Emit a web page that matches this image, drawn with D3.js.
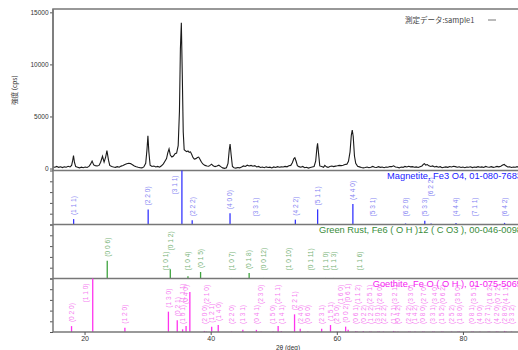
<!DOCTYPE html>
<html>
<head>
<meta charset="utf-8">
<script src="https://cdn.jsdelivr.net/npm/d3@7"></script>
<style>
  body { margin: 0; background: #fff; }
  svg text { font-family: "Liberation Sans", Arial, sans-serif; }
</style>
</head>
<body>
<svg id="chart" width="518" height="350"></svg>
<script>
// measured pattern, [2theta, cps]
const measured = [
  [15.0,150],[15.3,120],[15.6,200],[15.9,110],[16.2,170],[16.5,90],[16.8,160],[17.1,120],[17.4,210],[17.7,150],
  [17.95,300],[18.1,700],[18.25,1240],[18.4,600],[18.6,180],[18.9,120],[19.2,60],[19.5,130],[19.8,80],[20.1,150],
  [20.4,100],[20.7,200],[20.95,420],[21.2,720],[21.45,350],[21.7,280],[22.0,240],[22.3,300],[22.55,600],[22.85,1180],
  [23.1,620],[23.35,1100],[23.55,1720],[23.8,800],[24.0,300],[24.3,200],[24.6,150],[24.9,110],[25.2,180],[25.5,120],
  [25.8,230],[26.1,280],[26.4,380],[26.7,450],[27.0,500],[27.3,470],[27.6,360],[27.9,250],[28.2,170],[28.5,120],
  [28.8,80],[29.1,60],[29.4,150],[29.7,500],[29.9,1800],[30.05,3150],[30.2,1600],[30.4,320],[30.7,200],[31.0,240],
  [31.3,150],[31.6,200],[31.9,130],[32.2,260],[32.5,450],[32.75,700],[33.0,950],[33.2,1500],[33.4,1880],[33.6,1300],
  [33.85,1100],[34.1,1200],[34.35,1420],[34.6,1480],[34.85,2200],[35.05,5500],[35.2,11500],[35.35,14000],[35.5,9000],[35.65,3500],
  [35.8,1800],[36.0,1700],[36.2,1620],[36.4,1680],[36.6,1550],[36.8,1600],[37.0,1350],[37.2,1050],[37.4,900],[37.65,950],
  [37.9,1050],[38.1,1100],[38.3,900],[38.55,600],[38.8,420],[39.1,300],[39.4,250],[39.7,220],[39.9,300],[40.15,420],
  [40.4,260],[40.7,180],[41.0,240],[41.3,320],[41.6,180],[41.9,60],[42.2,20],[42.5,80],[42.75,500],[42.95,1800],
  [43.08,2350],[43.25,1300],[43.45,200],[43.7,80],[44.0,40],[44.3,100],[44.6,60],[44.9,150],[45.2,250],[45.5,200],
  [45.8,320],[46.1,240],[46.4,300],[46.7,220],[47.0,280],[47.3,150],[47.6,200],[47.9,100],[48.2,140],[48.5,80],
  [48.8,160],[49.1,100],[49.4,130],[49.7,60],[50.0,150],[50.3,100],[50.6,180],[50.9,120],[51.2,160],[51.5,140],
  [51.8,200],[52.1,160],[52.4,260],[52.7,300],[52.95,550],[53.2,950],[53.35,1030],[53.55,700],[53.75,280],[54.0,180],
  [54.3,120],[54.6,200],[54.9,80],[55.2,120],[55.5,40],[55.8,100],[56.1,150],[56.4,200],[56.65,700],[56.85,2000],
  [56.95,2420],[57.1,1500],[57.3,250],[57.6,200],[57.9,120],[58.1,300],[58.35,160],[58.6,110],[58.9,200],[59.2,240],
  [59.5,180],[59.8,230],[60.1,260],[60.4,300],[60.7,280],[61.0,320],[61.3,380],[61.6,420],[61.85,700],[62.1,1600],
  [62.3,3200],[62.45,3700],[62.6,3100],[62.8,1200],[63.0,500],[63.3,220],[63.6,160],[63.9,100],[64.2,60],[64.5,100],
  [64.8,150],[65.1,80],[65.4,120],[65.7,200],[66.0,130],[66.3,100],[66.6,180],[66.9,110],[67.2,150],[67.5,80],
  [67.8,140],[68.1,120],[68.4,200],[68.7,180],[69.0,260],[69.3,150],[69.6,120],[69.9,60],[70.2,140],[70.5,110],
  [70.8,200],[71.1,150],[71.4,220],[71.7,160],[72.0,180],[72.3,120],[72.6,160],[72.9,100],[73.2,180],[73.5,250],
  [73.75,420],[73.9,460],[74.1,330],[74.35,380],[74.6,260],[74.9,200],[75.2,250],[75.5,150],[75.8,200],[76.1,120],
  [76.4,180],[76.7,80],[77.0,130],[77.3,160],[77.6,110],[77.9,190],[78.2,150],[78.5,220],[78.8,180],[79.1,120],
  [79.4,170],[79.7,100],[80.0,140],[80.3,80],[80.6,150],[80.9,120],[81.2,170],[81.5,90],[81.8,140],[82.1,110],
  [82.4,180],[82.7,130],[83.0,160],[83.3,100],[83.6,200],[83.9,150],[84.2,120],[84.5,180],[84.8,110],[85.1,150],
  [85.4,200],[85.7,160],[86.0,220],[86.3,330],[86.55,390],[86.8,260],[87.1,150],[87.4,170],[87.7,100],[88.0,140],
  [88.3,120],[88.6,180],[88.9,110],[89.2,150],[89.5,130],[89.8,160]
];

// reference cards: [2theta, relative intensity %, hkl]
const magnetite = [
  [18.27,10,"(1 1 1)"],[30.09,28,"(2 2 0)"],[35.44,100,"(3 1 1)"],[37.07,8,"(2 2 2)"],
  [43.07,21,"(4 0 0)"],[47.15,1,"(3 3 1)"],[53.43,9,"(4 2 2)"],[56.96,28,"(5 1 1)"],
  [62.55,38,"(4 4 0)"],[65.72,1,"(5 3 1)"],[70.9,2,"(6 2 0)"],[73.95,7,"(5 3 3)"],
  [74.95,2,"(6 2 2)"],[78.9,3,"(4 4 4)"],[81.9,1,"(7 1 1)"],[86.6,3,"(6 4 2)"]
];
const greenRust = [
  [23.6,33,"(0 0 6)"],[32.8,1,"(1 0 1)"],[33.6,17,"(0 1 2)"],[36.4,4,"(1 0 4)"],
  [38.4,12,"(0 1 5)"],[43.3,1,"(1 0 7)"],[46.1,10,"(0 1 8)"],[48.4,1,"(0 0 12)"],
  [52.4,1,"(1 0 10)"],[55.9,1,"(0 1 11)"],[58.2,1,"(1 1 0)"],[59.5,1,"(1 1 3)"],[63.7,1,"(1 1 6)"]
];
const goethite = [
  [17.94,11,"(0 2 0)"],[21.3,100,"(1 1 0)"],[26.4,8,"(1 2 0)"],[33.3,38,"(1 3 0)"],
  [34.7,22,"(0 2 1)"],[35.55,5,"(1 0 1)"],[36.1,11,"(0 4 0)"],[36.7,75,"(1 1 1)"],
  [39.0,2,"(2 0 0)"],[39.3,1,"(2 1 0)"],[40.16,10,"(1 2 1)"],[41.2,13,"(1 4 0)"],
  [43.3,1,"(2 2 0)"],[45.1,4,"(1 3 1)"],[47.25,4,"(0 4 1)"],[48.0,1,"(2 3 0)"],
  [49.9,1,"(1 5 0)"],[50.7,11,"(2 1 1)"],[51.2,2,"(1 4 1)"],[53.3,33,"(2 2 1)"],
  [54.2,6,"(2 4 0)"],[55.4,1,"(0 6 0)"],[57.6,6,"(2 3 1)"],[59.0,13,"(1 5 1)"],
  [60.05,1,"(2 5 0)"],[60.6,1,"(1 6 0)"],[61.4,10,"(0 0 2)"],[61.8,4,"(0 6 1)"],
  [63.0,2,"(0 6 1)"],[63.25,1,"(1 1 2)"],[64.2,2,"(0 2 2)"],[65.2,1,"(2 5 1)"],
  [65.45,1,"(1 2 2)"],[66.5,1,"(3 0 1)"],[66.75,1,"(2 6 0)"],[67.4,1,"(2 2 2)"],
  [69.0,2,"(1 7 1)"],[69.25,1,"(3 2 1)"],[69.7,1,"(0 4 2)"],[71.4,1,"(2 4 2)"],
  [71.65,1,"(3 3 0)"],[72.4,1,"(1 4 2)"],[73.6,1,"(0 8 0)"],[73.85,1,"(2 7 0)"],
  [75.2,1,"(3 3 1)"],[75.45,1,"(3 4 0)"],[76.6,1,"(1 5 2)"],[76.85,1,"(0 6 2)"],
  [78.2,1,"(2 5 2)"],[79.2,1,"(3 5 0)"],[79.45,1,"(1 8 0)"],[81.4,1,"(0 8 1)"],
  [81.65,1,"(3 5 1)"],[82.7,1,"(4 0 0)"],[84.0,1,"(2 7 1)"],[84.25,1,"(1 6 2)"],
  [85.3,1,"(4 2 0)"],[85.55,1,"(0 7 2)"],[86.6,2,"(2 8 0)"],[86.85,1,"(4 1 1)"],
  [87.7,1,"(3 3 2)"]
];

const yTicks = [0, 5000, 10000, 15000];
const xTicks = [20, 40, 60, 80];

const svg = d3.select('#chart');
const left = 53, right = 526;

const x = d3.scaleLinear().domain([15, 90]).range([left, right]);
const y = d3.scaleLinear().domain([-190, 15320]).range([170.5, 9]);

const borderCol = '#777';

// top panel frame
svg.append('rect')
  .attr('x', left).attr('y', 9)
  .attr('width', right - left).attr('height', 161.5)
  .attr('fill', 'none').attr('stroke', borderCol).attr('stroke-width', 1.5);

// y axis of measured data
const yAx = svg.append('g')
  .attr('transform', `translate(${left},0)`)
  .call(d3.axisLeft(y).tickValues(yTicks).tickFormat(d3.format('d')).tickSize(3).tickPadding(1.5));
yAx.select('.domain').remove();
yAx.selectAll('line').attr('stroke', '#555');
yAx.selectAll('text').attr('font-size', 6.5).attr('fill', '#333')
  .style('font-family', '"Liberation Sans", Arial, sans-serif');

// measured trace
const line = d3.line().x(d => x(d[0])).y(d => y(d[1]));
svg.append('path')
  .datum(measured)
  .attr('d', line)
  .attr('fill', 'none')
  .attr('stroke', '#1a1a1a')
  .attr('stroke-width', 1.1);

// legend
svg.append('text')
  .attr('x', 405).attr('y', 23)
  .attr('font-size', 7.5).attr('fill', '#444')
  .style('font-family', '"Noto Sans CJK JP", sans-serif')
  .text('測定データ:sample1');
svg.append('line')
  .attr('x1', 488).attr('x2', 496).attr('y1', 20).attr('y2', 20)
  .attr('stroke', '#777').attr('stroke-width', 1);

// y title
svg.append('text')
  .attr('transform', 'translate(17,90) rotate(-90)')
  .attr('text-anchor', 'middle')
  .attr('font-size', 6.5).attr('fill', '#333')
  .style('font-family', '"Noto Sans CJK JP", sans-serif')
  .text('強度 (cps)');

// stick panels
const cards = [
  {data: magnetite, top: 170.5, bottom: 224.5, stick: '#3535ff', label: '#8585f2', title: '#2222ff',
   name: 'Magnetite, Fe3 O4, 01-080-7683'},
  {data: greenRust, top: 224.5, bottom: 278.5, stick: '#3fa33f', label: '#78b478', title: '#3a8c3a',
   name: 'Green Rust, Fe6 ( O H )12 ( C O3 ), 00-046-0098'},
  {data: goethite, top: 278.5, bottom: 332, stick: '#ff33ee', label: '#f580f0', title: '#f522f0',
   name: 'Goethite, Fe O ( O H ), 01-075-5065'}
];

cards.forEach(card => {
  const ys = d3.scaleLinear().domain([0, 100]).range([card.bottom, card.top]);
  const g = svg.append('g');

  // left ticks
  const ax = g.append('g')
    .attr('transform', `translate(${left},0)`)
    .call(d3.axisLeft(ys).tickValues([0, 20, 40, 60, 80, 100]).tickSize(3).tickFormat(''));
  ax.select('.domain').remove();
  ax.selectAll('line').attr('stroke', '#555');

  // sticks
  g.selectAll('line.stick')
    .data(card.data)
    .enter()
    .append('line')
    .attr('class', 'stick')
    .attr('x1', d => x(d[0])).attr('x2', d => x(d[0]))
    .attr('y1', card.bottom).attr('y2', d => ys(d[1]))
    .attr('stroke', card.stick)
    .attr('stroke-width', 1.3);

  // hkl labels, lifted when they collide, not above the panel
  const placed = [];
  card.data.forEach(d => {
    const t = g.append('text')
      .attr('font-size', 6.6)
      .attr('fill', card.label)
      .attr('dy', '0.35em')
      .text(d[2]);
    const len = t.node().getComputedTextLength();
    const sx = x(d[0]);
    const stickTop = ys(d[1]);
    let lx = sx;
    let bottom = Math.min(stickTop - 4, card.bottom - 8);
    if (bottom - len < card.top + 5) {
      lx = sx - 7;
      bottom = card.top + 5 + len;
    }
    const first = bottom;
    let moved = true;
    while (moved) {
      moved = false;
      placed.forEach(q => {
        if (Math.abs(q.x - lx) < 6.5 && bottom > q.top - 1 && bottom - len < q.bottom + 1) {
          bottom = q.top - 1;
          moved = true;
        }
      });
    }
    if (bottom - len < card.top + 4) bottom = first;
    placed.push({x: lx, top: bottom - len, bottom: bottom});
    t.attr('transform', `translate(${lx},${bottom}) rotate(-90)`);
  });

  // panel baseline
  g.append('line')
    .attr('x1', left).attr('x2', right)
    .attr('y1', card.bottom).attr('y2', card.bottom)
    .attr('stroke', borderCol).attr('stroke-width', 1.5);

  // card title
  g.append('text')
    .attr('x', 522).attr('y', card.top + 8.5)
    .attr('text-anchor', 'end')
    .attr('font-size', 9.3)
    .attr('fill', card.title)
    .text(card.name);
});

// left spine
svg.append('line')
  .attr('x1', left).attr('x2', left).attr('y1', 9).attr('y2', 332)
  .attr('stroke', borderCol).attr('stroke-width', 1.5);

// x axis
const xAx = svg.append('g')
  .attr('transform', 'translate(0,332)')
  .call(d3.axisBottom(x).tickValues(xTicks).tickSize(3).tickPadding(1.5));
xAx.select('.domain').remove();
xAx.selectAll('line').attr('stroke', '#555');
xAx.selectAll('text').attr('font-size', 7).attr('fill', '#333')
  .style('font-family', '"Liberation Sans", Arial, sans-serif');

svg.append('text')
  .attr('x', 288).attr('y', 350)
  .attr('text-anchor', 'middle')
  .attr('font-size', 6.5).attr('fill', '#333')
  .text('2θ (deg)');
</script>
</body>
</html>
